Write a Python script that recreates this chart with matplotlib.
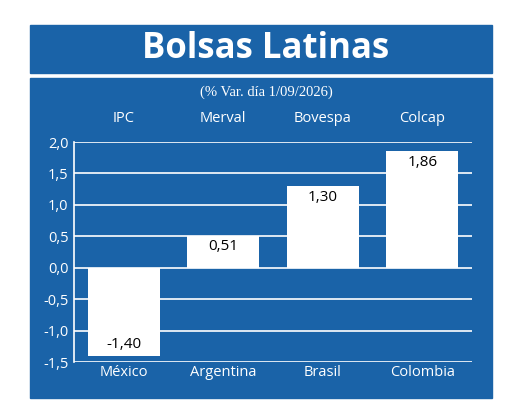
import matplotlib.pyplot as plt
from matplotlib.patches import Rectangle

indices = ['IPC', 'Merval', 'Bovespa', 'Colcap']
countries = ['México', 'Argentina', 'Brasil', 'Colombia']
values = [-1.40, 0.51, 1.30, 1.86]
ticks = [-1.5, -1.0, -0.5, 0.0, 0.5, 1.0, 1.5, 2.0]

BLUE = '#1a63a8'
W, H = 520, 417

fig = plt.figure(figsize=(5.2, 4.17), dpi=100)
fig.patch.set_facecolor('white')
plt.rcParams['font.family'] = ['Open Sans', 'DejaVu Sans']

# banner and panel (behind the axes)
fig.add_artist(Rectangle((30 / W, 1 - 73 / H), 462 / W, 48 / H, transform=fig.transFigure,
                         color=BLUE, zorder=-5))
fig.add_artist(Rectangle((30 / W, 1 - 398 / H), 462 / W, 320 / H, transform=fig.transFigure,
                         color=BLUE, zorder=-5))
fig.text(266 / W, 1 - 49 / H, 'Bolsas Latinas', color='white', fontsize=25, fontweight='bold',
         ha='center', va='center', family=['Open Sans', 'DejaVu Sans'])
fig.text(266 / W, 1 - 92 / H, '(% Var. día 1/09/2026)', color='white', fontsize=10.5,
         ha='center', va='center', family=['Liberation Serif', 'DejaVu Serif'])

ax = fig.add_axes([74 / W, 1 - 362 / H, 398 / W, 220 / H], zorder=2)
ax.set_facecolor('none')
x = range(len(values))
for t in ticks:
    ax.axhline(t, color='white', lw=1.2, zorder=1)
ax.bar(x, values, width=0.72, color='white', zorder=2)
for i, v in enumerate(values):
    lab = f'{v:.2f}'.replace('.', ',')
    if v >= 0:
        ax.text(i, v - 0.06, lab, ha='center', va='top', fontsize=11, color='black', zorder=3)
    else:
        ax.text(i, v + 0.06, lab, ha='center', va='bottom', fontsize=11, color='black', zorder=3)
    ax.text(i, 2.38, indices[i], ha='center', va='center', fontsize=10.5, color='white')
    ax.text(i, -1.67, countries[i], ha='center', va='center', fontsize=10.5, color='white')

ax.set_xlim(-0.5, 3.5)
ax.set_ylim(-1.5, 2.0)
ax.set_yticks(ticks)
ax.set_yticklabels([f'{t:.1f}'.replace('.', ',') for t in ticks], color='white', fontsize=10.5)
ax.tick_params(axis='y', length=0, pad=4)
ax.set_xticks([])
for s in ['top', 'right', 'bottom']:
    ax.spines[s].set_visible(False)
ax.spines['left'].set_color('white')
ax.spines['left'].set_linewidth(1.2)

fig.savefig('out.png', dpi=100)
